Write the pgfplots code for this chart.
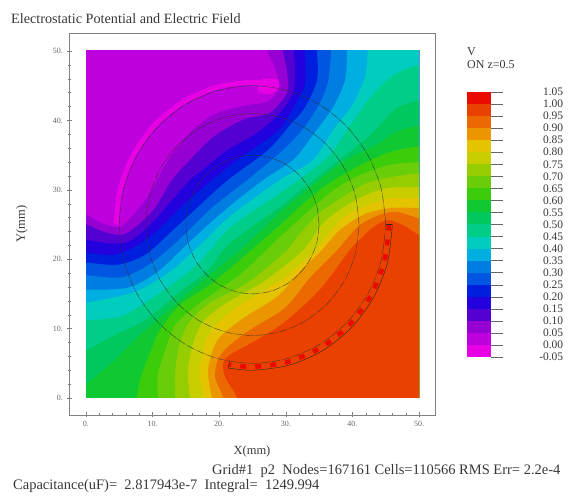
\documentclass[border=0pt]{standalone}
\usepackage{pgfplots}
\pgfplotsset{compat=1.18}
\usepackage{fontspec}
\setmainfont{Liberation Serif}
\definecolor{b00}{RGB}{232,0,228}
\definecolor{b01}{RGB}{190,0,222}
\definecolor{b02}{RGB}{150,0,210}
\definecolor{b03}{RGB}{85,0,210}
\definecolor{b04}{RGB}{35,0,222}
\definecolor{b05}{RGB}{0,30,222}
\definecolor{b06}{RGB}{0,85,225}
\definecolor{b07}{RGB}{0,125,225}
\definecolor{b08}{RGB}{0,175,225}
\definecolor{b09}{RGB}{0,205,190}
\definecolor{b10}{RGB}{0,205,135}
\definecolor{b11}{RGB}{0,200,95}
\definecolor{b12}{RGB}{15,200,50}
\definecolor{b13}{RGB}{60,205,10}
\definecolor{b14}{RGB}{105,205,10}
\definecolor{b15}{RGB}{150,205,0}
\definecolor{b16}{RGB}{200,205,0}
\definecolor{b17}{RGB}{228,195,0}
\definecolor{b18}{RGB}{235,150,0}
\definecolor{b19}{RGB}{235,105,0}
\definecolor{b20}{RGB}{235,65,0}
\definecolor{b21}{RGB}{235,10,0}
\definecolor{txt}{RGB}{55,55,55}
\begin{document}
\begin{tikzpicture}
\path[use as bounding box] (0pt,0pt) rectangle (580pt,500pt);
% filled contour bands
\begin{axis}[at={(86pt,102pt)},anchor=south west,scale only axis,width=333pt,height=347pt,
  xmin=0,xmax=50,ymin=0,ymax=50,hide axis]
\addplot[fill=b01,draw=none] coordinates {(-15,-15)(65,-15)(65,65)(-15,65)};
\addplot[fill=b00,draw=none,smooth] coordinates {(26.4,46)(28.7,45.9)(29,44.6)(27.5,43.8)(25.8,44.2)(26.4,46)};
\addplot[fill=b02,draw=none,smooth] coordinates {(27.2,65)(27.2,53)(27.2,50)(28.4,47.6)(29,44.7)(27.2,42.7)(23.6,42.1)(19.1,40.8)(15.6,38.2)(12.6,34.7)(10.66,31.4)(9.3,29)(7.36,26.7)(5.1,24.6)(2.4,25.2)(0,26.4)(-3,27)(-15,27)(-15,-15)(65,-15)(65,65)};
\addplot[fill=b03,draw=none,smooth] coordinates {(29.6,65)(29.6,53)(29.6,50)(30.2,47)(30.2,44)(27.6,41.1)(23.6,40.1)(19.1,37.6)(15.6,34.3)(12.9,31.4)(10.36,27.4)(7.8,24.9)(5.4,23.5)(2.85,23.9)(0,25)(-3,25.5)(-15,25.5)(-15,-15)(65,-15)(65,65)};
\addplot[fill=b04,draw=none,smooth] coordinates {(31.2,65)(31.2,53)(31.2,50)(31.4,47.3)(31.1,44)(29.1,41.1)(25.7,38.2)(21.2,35.7)(17.6,32.9)(15.6,31.4)(12.3,27.8)(9.3,24.6)(6.3,22.5)(3.3,22.3)(0,22.8)(-3,23)(-15,23)(-15,-15)(65,-15)(65,65)};
\addplot[fill=b05,draw=none,smooth] coordinates {(32.9,65)(32.9,53)(32.9,50)(32.9,45.4)(31.7,42.8)(29.3,38.9)(26.6,36.9)(22.7,34.3)(18.9,31.4)(14.9,28.1)(10.8,24.2)(7.36,21.8)(3.9,20.6)(0,21)(-3,21.2)(-15,21.2)(-15,-15)(65,-15)(65,65)};
\addplot[fill=b06,draw=none,smooth] coordinates {(34.7,65)(34.7,53)(34.7,50)(34.7,45.8)(32.9,41.9)(30.9,39.6)(27.3,35.7)(21.3,31.4)(16.8,27.5)(12.3,23.5)(8.86,20.6)(4.8,19.2)(0,19.5)(-3,19.5)(-15,19.5)(-15,-15)(65,-15)(65,65)};
\addplot[fill=b07,draw=none,smooth] coordinates {(36.8,65)(36.8,53)(36.8,50)(36.3,45.4)(34.8,41.9)(32.1,38.2)(29.1,35.3)(24.2,31.4)(18.9,27.4)(14.4,23.2)(9.9,19.5)(5.4,17.4)(0,17.7)(-3,17.7)(-15,17.7)(-15,-15)(65,-15)(65,65)};
\addplot[fill=b08,draw=none,smooth] coordinates {(39.2,65)(39.2,53)(39.2,50)(38.9,45.8)(37.1,41.9)(34.1,37.9)(31.1,34.3)(26.6,31.4)(20.9,27.1)(15.9,22.8)(10.8,18.2)(6.3,15.9)(0,15.6)(-3,15.6)(-15,15.6)(-15,-15)(65,-15)(65,65)};
\addplot[fill=b09,draw=none,smooth] coordinates {(42.3,65)(42.3,53)(42.3,50)(41.9,46.3)(40,42.2)(37.1,38.6)(34.1,34.3)(29.1,31.4)(21.9,26.4)(17.1,22)(12.6,18.2)(7.36,15.3)(0,13.7)(-3,13.4)(-15,13.4)(-15,-15)(65,-15)(65,65)};
\addplot[fill=b10,draw=none,smooth] coordinates {(65,48)(53,48.5)(50,48)(46.7,46.8)(44.1,44.8)(41.6,41.9)(39.2,38.6)(36.6,35)(33.6,32.6)(29.1,29.5)(21.6,24.5)(17.4,19.9)(13.4,16.7)(5.86,12)(0,11.2)(-3,11.2)(-15,11)(-15,-15)(65,-15)};
\addplot[fill=b11,draw=none,smooth] coordinates {(65,44)(53,43.6)(50,42.9)(46.7,41.8)(44.1,39.3)(41.9,37.2)(39,35)(35.1,32.1)(31.7,29.5)(29.1,27.5)(21.6,22.3)(18.3,18.4)(14.1,15.3)(8.86,11.2)(4.35,9.1)(0,6.9)(-3,6.5)(-15,6)(-15,-15)(65,-15)};
\addplot[fill=b12,draw=none,smooth] coordinates {(65,40)(53,39.8)(50,39.3)(46.4,38.3)(43.7,36.5)(39.6,34.6)(35.9,32.1)(32.6,29.5)(29.1,26.7)(23.1,21.3)(15.9,15.6)(8.1,9.1)(4.35,5.5)(0,1.9)(-3,-1)(-15,-10)(-15,-15)(65,-15)};
\addplot[fill=b13,draw=none,smooth] coordinates {(65,37)(53,36.6)(50,36.3)(45.2,35.3)(40.7,33.3)(36.6,31)(33.2,28.5)(29.1,24.9)(23.1,19.9)(18.6,16.3)(14.1,13.4)(11.1,9.8)(9.6,6.5)(8.1,2.6)(7.66,0)(7.6,-3)(7.6,-15)(65,-15)};
\addplot[fill=b14,draw=none,smooth] coordinates {(65,34.5)(53,34.2)(50,34)(45.6,33.6)(41.1,32.1)(37.7,30.3)(34.1,27.5)(29.1,23.2)(23.9,18.4)(20.4,15.9)(16.7,13.4)(13.4,10.5)(11.9,6.9)(10.8,3.3)(10.8,0)(10.9,-3)(10.9,-15)(65,-15)};
\addplot[fill=b15,draw=none,smooth] coordinates {(65,32.8)(53,32.5)(50,32.4)(45.6,31.8)(42.2,31)(38.6,29)(35.1,26.7)(31.7,23.2)(30.2,21.3)(25.4,17.4)(22.4,15.6)(18.6,13.7)(15.6,11)(14.1,7.9)(13.4,4)(13.4,0)(13.5,-3)(13.5,-15)(65,-15)};
\addplot[fill=b16,draw=none,smooth] coordinates {(65,30.4)(53,30.4)(50,30.4)(45.6,30.3)(42.6,29.5)(39.2,27.8)(35.6,25.2)(32.6,21.3)(27.6,17.4)(24.6,15.6)(20.6,13.4)(17.6,11)(16.1,7.9)(15.3,4)(15.6,0)(15.7,-3)(15.7,-15)(65,-15)};
\addplot[fill=b17,draw=none,smooth] coordinates {(65,28.8)(53,28.8)(50,28.8)(45.6,28.8)(43.1,28.1)(39.2,26.4)(36.6,23.9)(34.4,21.3)(29.9,17.4)(26.4,15.3)(22.1,12.7)(18.9,9.8)(17.6,6.9)(17.1,3.6)(17.6,0)(17.7,-3)(17.7,-15)(65,-15)};
\addplot[fill=b18,draw=none,smooth] coordinates {(65,27.4)(53,27.4)(50,27.4)(46.1,27.4)(44.1,27.1)(41.6,26.4)(38.1,24.2)(35.4,21.3)(32.1,18.2)(28.7,14.6)(23.6,11.5)(20.1,8.8)(18.9,6.5)(18.3,3.6)(18.9,0)(19,-3)(19,-15)(65,-15)};
\addplot[fill=b19,draw=none,smooth] coordinates {(65,25)(53,25.4)(50,25.9)(46.7,26.8)(44.1,26.4)(41.1,24.9)(38.6,22.3)(37.7,21.3)(33.6,17.3)(29.9,13)(24.6,9.8)(21.2,7.3)(19.8,5.5)(19.4,3)(20.6,0)(20.8,-3)(20.8,-15)(65,-15)};
\addplot[fill=b20,draw=none,smooth] coordinates {(65,21)(53,22.5)(50,23.5)(47.6,24.9)(45.3,25.6)(43.1,24.6)(41.1,22.8)(39.6,21.3)(35.1,15.6)(29.9,11)(25.7,8.4)(21.6,6.2)(20.6,5)(20.9,3)(22.7,0)(22.9,-3)(22.9,-15)(65,-15)};
\end{axis}
% frame, ticks, circles, electrodes
\begin{axis}[at={(69pt,85pt)},anchor=south west,scale only axis,width=366pt,height=382pt,
  xmin=-2.55,xmax=52.4,ymin=-2.45,ymax=52.6,
  xtick={0,10,20,30,40,50},ytick={0,10,20,30,40,50},
  xticklabels={0.,10.,20.,30.,40.,50.},yticklabels={0.,10.,20.,30.,40.,50.},
  minor tick num=4,tick align=center,major tick length=5pt,minor tick length=3pt,
  tick style={black!50,line width=.35pt},
  axis line style={black!50,line width=.4pt},
  xtick pos=bottom,ytick pos=left,
  ticklabel style={font=\fontsize{8}{9}\selectfont,text=black!60},
  xlabel={X(mm)},ylabel={Y(mm)},
  label style={font=\fontsize{12.5}{13}\selectfont,text=txt},
  xlabel style={at={(axis description cs:0.5,0)},yshift=-27pt},
  ylabel style={at={(axis description cs:0,0.5)},yshift=38pt}]
\addplot[smooth,line width=5pt,color=b00] coordinates {(28.56,45.19)(25,45.5)(19.69,44.8)(14.75,42.75)(10.5,39.5)(7.25,35.25)(5.2,30.31)(4.5,25)};
\addplot[smooth,line width=4.5pt,color=b21,dash pattern=on 6pt off 9pt] coordinates {(45.5,25)(44.8,19.69)(42.75,14.75)(39.5,10.5)(35.25,7.25)(30.31,5.2)(25,4.5)(21.44,4.81)};
\addplot[smooth,black!85,line width=.4pt] coordinates {(46,25)(45.28,19.56)(43.19,14.5)(39.85,10.15)(35.5,6.81)(30.44,4.72)(25,4)(21.35,4.32)};
\addplot[black!85,line width=.4pt] coordinates {(21.35,4.32)(21.53,5.3)};
\addplot[black!85,line width=.4pt] coordinates {(45,25)(46,25)};
\addplot[smooth,black!80,line width=.35pt,dash pattern=on 8pt off 1pt on 1pt off 1pt] coordinates {(35,25)(34.66,27.59)(33.66,30)(32.07,32.07)(30,33.66)(27.59,34.66)(25,35)(22.41,34.66)(20,33.66)(17.93,32.07)(16.34,30)(15.34,27.59)(15,25)(15.34,22.41)(16.34,20)(17.93,17.93)(20,16.34)(22.41,15.34)(25,15)(27.59,15.34)(30,16.34)(32.07,17.93)(33.66,20)(34.66,22.41)(35,25)};
\addplot[smooth,black!80,line width=.35pt,dash pattern=on 8pt off 1pt on 1pt off 1pt] coordinates {(41,25)(40.45,29.14)(38.86,33)(36.31,36.31)(33,38.86)(29.14,40.45)(25,41)(20.86,40.45)(17,38.86)(13.69,36.31)(11.14,33)(9.55,29.14)(9,25)(9.55,20.86)(11.14,17)(13.69,13.69)(17,11.14)(20.86,9.55)(25,9)(29.14,9.55)(33,11.14)(36.31,13.69)(38.86,17)(40.45,20.86)(41,25)};
\addplot[smooth,black!80,line width=.35pt,dash pattern=on 8pt off 1pt on 1pt off 1pt] coordinates {(45,25)(44.32,30.18)(42.32,35)(39.14,39.14)(35,42.32)(30.18,44.32)(25,45)(19.82,44.32)(15,42.32)(10.86,39.14)(7.68,35)(5.68,30.18)(5,25)(5.68,19.82)(7.68,15)(10.86,10.86)(15,7.68)(19.82,5.68)(25,5)(30.18,5.68)(35,7.68)(39.14,10.86)(42.32,15)(44.32,19.82)(45,25)};
\end{axis}
% colour bar
\begin{axis}[at={(467pt,143pt)},anchor=south west,scale only axis,width=24pt,height=265pt,
  xmin=0,xmax=1,ymin=-0.05,ymax=1.05,
  axis x line=none,axis y line=right,axis line style={draw=none},
  ytick={-0.05,0,0.05,0.1,0.15,0.2,0.25,0.3,0.35,0.4,0.45,0.5,0.55,0.6,0.65,0.7,0.75,0.8,0.85,0.9,0.95,1,1.05},
  yticklabels={-0.05,0.00,0.05,0.10,0.15,0.20,0.25,0.30,0.35,0.40,0.45,0.50,0.55,0.60,0.65,0.70,0.75,0.80,0.85,0.90,0.95,1.00,1.05},
  tick align=outside,major tick length=12pt,tick style={black!60,line width=.4pt},
  yticklabel style={font=\fontsize{11.5}{12}\selectfont,text=txt,text width=27pt,align=right,inner sep=0pt,xshift=33pt}]
\addplot[fill=b00,draw=none] coordinates {(0,-0.05)(1,-0.05)(1,0)(0,0)};
\addplot[fill=b01,draw=none] coordinates {(0,0)(1,0)(1,0.05)(0,0.05)};
\addplot[fill=b02,draw=none] coordinates {(0,0.05)(1,0.05)(1,0.1)(0,0.1)};
\addplot[fill=b03,draw=none] coordinates {(0,0.1)(1,0.1)(1,0.15)(0,0.15)};
\addplot[fill=b04,draw=none] coordinates {(0,0.15)(1,0.15)(1,0.2)(0,0.2)};
\addplot[fill=b05,draw=none] coordinates {(0,0.2)(1,0.2)(1,0.25)(0,0.25)};
\addplot[fill=b06,draw=none] coordinates {(0,0.25)(1,0.25)(1,0.3)(0,0.3)};
\addplot[fill=b07,draw=none] coordinates {(0,0.3)(1,0.3)(1,0.35)(0,0.35)};
\addplot[fill=b08,draw=none] coordinates {(0,0.35)(1,0.35)(1,0.4)(0,0.4)};
\addplot[fill=b09,draw=none] coordinates {(0,0.4)(1,0.4)(1,0.45)(0,0.45)};
\addplot[fill=b10,draw=none] coordinates {(0,0.45)(1,0.45)(1,0.5)(0,0.5)};
\addplot[fill=b11,draw=none] coordinates {(0,0.5)(1,0.5)(1,0.55)(0,0.55)};
\addplot[fill=b12,draw=none] coordinates {(0,0.55)(1,0.55)(1,0.6)(0,0.6)};
\addplot[fill=b13,draw=none] coordinates {(0,0.6)(1,0.6)(1,0.65)(0,0.65)};
\addplot[fill=b14,draw=none] coordinates {(0,0.65)(1,0.65)(1,0.7)(0,0.7)};
\addplot[fill=b15,draw=none] coordinates {(0,0.7)(1,0.7)(1,0.75)(0,0.75)};
\addplot[fill=b16,draw=none] coordinates {(0,0.75)(1,0.75)(1,0.8)(0,0.8)};
\addplot[fill=b17,draw=none] coordinates {(0,0.8)(1,0.8)(1,0.85)(0,0.85)};
\addplot[fill=b18,draw=none] coordinates {(0,0.85)(1,0.85)(1,0.9)(0,0.9)};
\addplot[fill=b19,draw=none] coordinates {(0,0.9)(1,0.9)(1,0.95)(0,0.95)};
\addplot[fill=b20,draw=none] coordinates {(0,0.95)(1,0.95)(1,1)(0,1)};
\addplot[fill=b21,draw=none] coordinates {(0,1)(1,1)(1,1.05)(0,1.05)};
\end{axis}
\node[anchor=west,inner sep=0pt,text=txt,font=\fontsize{14.2}{15}\selectfont] at (11pt,481pt) {Electrostatic Potential and Electric Field};
\node[anchor=west,inner sep=0pt,text=txt,font=\fontsize{12}{13}\selectfont] at (467pt,448pt) {V};
\node[anchor=west,inner sep=0pt,text=txt,font=\fontsize{12}{13}\selectfont] at (467pt,435pt) {ON z=0.5};
\node[anchor=west,inner sep=0pt,text=txt,font=\fontsize{14.5}{15}\selectfont] at (212pt,29pt) {Grid\#1\ \ p2\ \ Nodes=167161 Cells=110566 RMS Err= 2.2e-4};
\node[anchor=west,inner sep=0pt,text=txt,font=\fontsize{14.5}{15}\selectfont] at (13pt,14pt) {Capacitance(uF)=\ \ 2.817943e-7\ \ Integral=\ \ 1249.994};
\end{tikzpicture}
\end{document}
